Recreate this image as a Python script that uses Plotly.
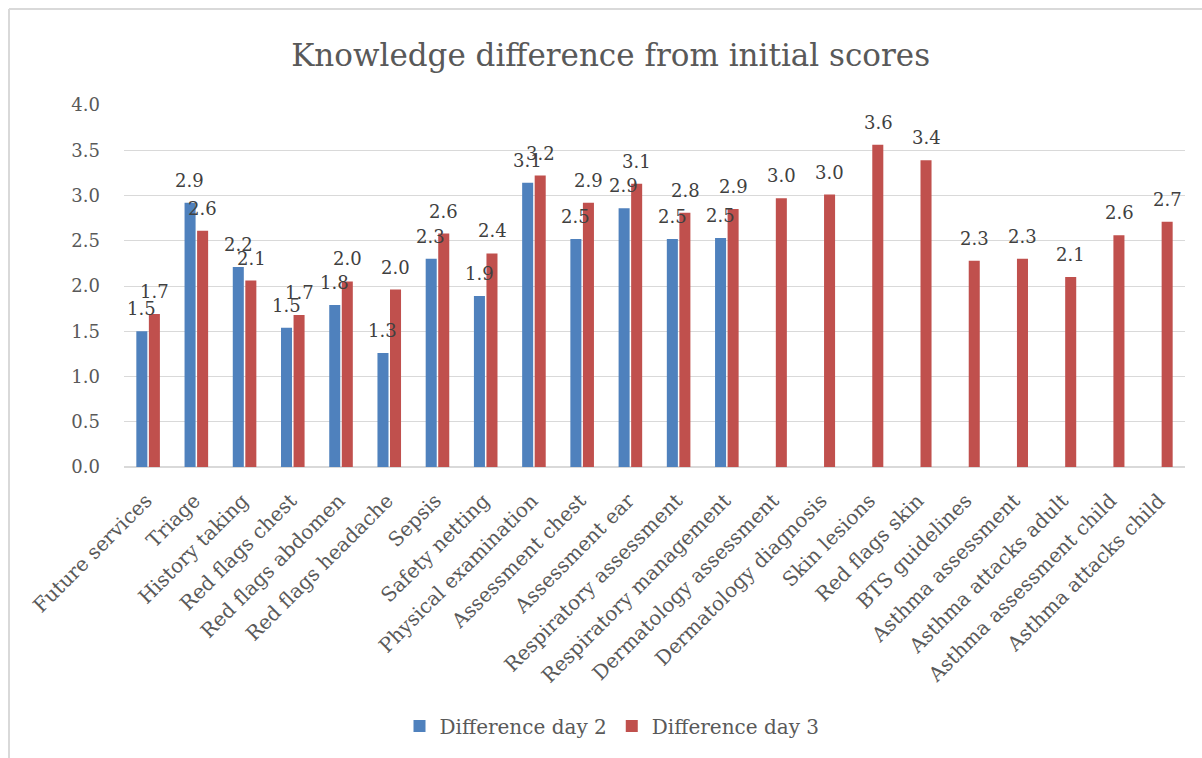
import plotly.graph_objects as go

categories = ["Future services", "Triage", "History taking", "Red flags chest",
              "Red flags abdomen", "Red flags headache", "Sepsis", "Safety netting",
              "Physical examination", "Assessment chest", "Assessment ear",
              "Respiratory assessment", "Respiratory management",
              "Dermatology assessment", "Dermatology diagnosis", "Skin lesions",
              "Red flags skin", "BTS guidelines", "Asthma assessment",
              "Asthma attacks adult", "Asthma assessment child", "Asthma attacks child"]

day2 = [1.50, 2.92, 2.21, 1.54, 1.79, 1.26, 2.30, 1.89, 3.14, 2.52, 2.86, 2.52, 2.53,
        None, None, None, None, None, None, None, None, None]
day3 = [1.69, 2.61, 2.06, 1.68, 2.05, 1.96, 2.58, 2.36, 3.22, 2.92, 3.13, 2.81, 2.85,
        2.97, 3.01, 3.56, 3.39, 2.28, 2.30, 2.10, 2.56, 2.71]

y_ticks = [0.0, 0.5, 1.0, 1.5, 2.0, 2.5, 3.0, 3.5, 4.0]

FONT = "DejaVu Serif"
TXT = "#404040"
AX = "#595959"

W, H = 1202, 758
L, R, T, B = 124, 17, 105, 291
PW, PH = W - L - R, H - T - B


def px_x(x):
    return (x - L) / PW


def px_y(y):
    return (H - B - y) / PH


series = [("Difference day 2", day2, "#4F81BD", -6.5),
          ("Difference day 3", day3, "#C0504D", 6.5)]

fig = go.Figure()
for name, vals, col, _ in series:
    fig.add_trace(go.Bar(name=name, x=categories, y=vals,
                         marker=dict(color=col, line=dict(width=0))))

# data labels (drawn above every bar, on top of all traces)
for name, vals, col, dx in series:
    for cat, v in zip(categories, vals):
        if v is None:
            continue
        fig.add_annotation(x=cat, y=v, xref="x", yref="y", text=f"{v:.1f}",
                           showarrow=False, xanchor="center", yanchor="bottom",
                           xshift=dx, yshift=10,
                           font=dict(family=FONT, size=18, color=TXT))

fig.update_layout(
    width=W, height=H,
    margin=dict(l=L, r=R, t=T, b=B, autoexpand=False),
    paper_bgcolor="white", plot_bgcolor="white",
    barmode="group", bargap=0.48, bargroupgap=0.12,
    font=dict(family=FONT, color=AX),
    title=dict(text="Knowledge difference from initial scores",
               font=dict(family=FONT, size=31, color=AX),
               x=0.508, xref="container", xanchor="center",
               y=1 - 55 / H, yref="container", yanchor="middle"),
    xaxis=dict(tickangle=-45, tickfont=dict(family=FONT, size=20, color=AX),
               showgrid=False, showline=True, linecolor="#D9D9D9", linewidth=1,
               ticks="", automargin=False, ticklabelshift=-2, ticklabelstandoff=13),
    yaxis=dict(range=[0, 4.0], tickvals=y_ticks, ticktext=[f"{v:.1f}" for v in y_ticks],
               tickfont=dict(family=FONT, size=18, color=AX),
               showgrid=True, gridcolor="#D9D9D9", gridwidth=1,
               zeroline=True, zerolinecolor="#D9D9D9", showline=False,
               ticks="", automargin=False, ticklabelstandoff=23),
    legend=dict(orientation="h", x=px_x(612), xanchor="center", y=px_y(726), yanchor="middle",
                font=dict(family=FONT, size=20, color=AX), itemwidth=30,
                traceorder="normal"),
    showlegend=True,
)

# chart area frame (top and left edges)
fig.add_shape(type="line", xref="paper", yref="paper",
              x0=px_x(9), x1=px_x(1202), y0=px_y(9), y1=px_y(9),
              line=dict(color="#D9D9D9", width=2), layer="below")
fig.add_shape(type="line", xref="paper", yref="paper",
              x0=px_x(9), x1=px_x(9), y0=px_y(9), y1=px_y(758),
              line=dict(color="#D9D9D9", width=2), layer="below")

fig.write_html("out.html", config={"displayModeBar": False},
               post_script="document.body.style.margin='0';document.body.style.padding='0';")
